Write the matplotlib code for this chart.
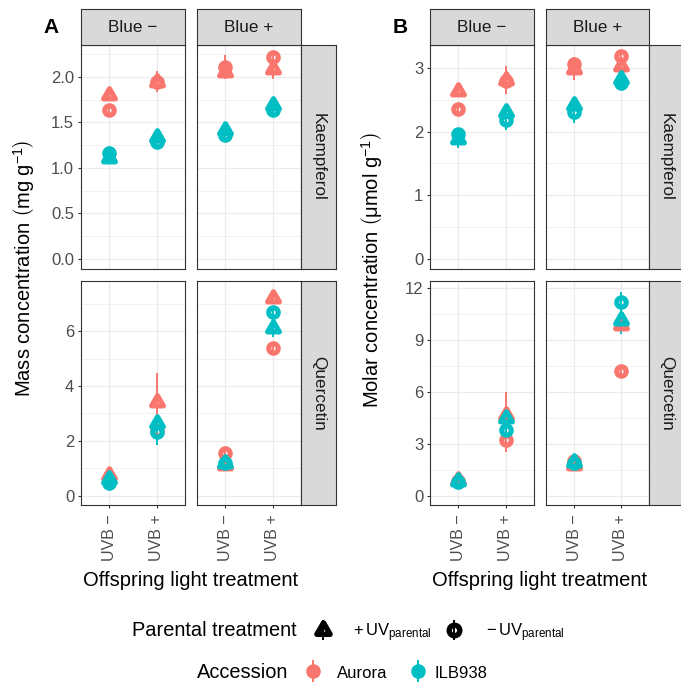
import numpy as np
import matplotlib

matplotlib.use("Agg")
import matplotlib.pyplot as plt
from matplotlib.markers import MarkerStyle
from matplotlib.path import Path

plt.rcParams["font.family"] = ["Liberation Sans", "DejaVu Sans"]
plt.rcParams["mathtext.fontset"] = "custom"
plt.rcParams["mathtext.rm"] = "Liberation Sans"
plt.rcParams["mathtext.it"] = "Liberation Sans:italic"
plt.rcParams["mathtext.bf"] = "Liberation Sans:bold"

# ------------------------------------------------------------------ data
# facet cells, in order: (Blue -, UVB -), (Blue -, UVB +), (Blue +, UVB -), (Blue +, UVB +)
blue_levels = ["Blue \u2212", "Blue +"]
uvb_levels = ["UVB \u2212", "UVB +"]
compounds = ["Kaempferol", "Quercetin"]
accessions = ["Aurora", "ILB938"]
acc_colors = ["#F8766D", "#00BFC4"]

# mass concentration (mg g-1): mean and SE per accession x parental UV
mass_kae_aurora_uv = [1.80, 1.95, 2.06, 2.09]
mass_kae_aurora_uv_se = [0.05, 0.12, 0.06, 0.11]
mass_kae_aurora_nouv = [1.64, 1.94, 2.11, 2.22]
mass_kae_aurora_nouv_se = [0.04, 0.05, 0.13, 0.05]
mass_kae_ilb_uv = [1.11, 1.34, 1.42, 1.69]
mass_kae_ilb_uv_se = [0.04, 0.05, 0.05, 0.05]
mass_kae_ilb_nouv = [1.16, 1.28, 1.36, 1.64]
mass_kae_ilb_nouv_se = [0.04, 0.06, 0.08, 0.04]

mass_que_aurora_uv = [0.76, 3.43, 1.13, 7.20]
mass_que_aurora_uv_se = [0.12, 1.04, 0.10, 0.15]
mass_que_aurora_nouv = [0.60, 2.35, 1.56, 5.39]
mass_que_aurora_nouv_se = [0.10, 0.30, 0.10, 0.12]
mass_que_ilb_uv = [0.62, 2.65, 1.20, 6.10]
mass_que_ilb_uv_se = [0.10, 0.25, 0.10, 0.30]
mass_que_ilb_nouv = [0.47, 2.34, 1.20, 6.70]
mass_que_ilb_nouv_se = [0.10, 0.50, 0.10, 0.15]

# molar concentration (umol g-1)
mol_kae_aurora_uv = [2.63, 2.81, 2.99, 3.03]
mol_kae_aurora_uv_se = [0.06, 0.22, 0.18, 0.08]
mol_kae_aurora_nouv = [2.35, 2.80, 3.06, 3.19]
mol_kae_aurora_nouv_se = [0.05, 0.06, 0.10, 0.08]
mol_kae_ilb_uv = [1.88, 2.31, 2.42, 2.83]
mol_kae_ilb_uv_se = [0.14, 0.08, 0.08, 0.17]
mol_kae_ilb_nouv = [1.97, 2.19, 2.31, 2.76]
mol_kae_ilb_nouv_se = [0.06, 0.16, 0.17, 0.08]

mol_que_aurora_uv = [0.95, 4.68, 1.80, 9.90]
mol_que_aurora_uv_se = [0.25, 1.32, 0.20, 0.25]
mol_que_aurora_nouv = [0.85, 3.23, 2.00, 7.24]
mol_que_aurora_nouv_se = [0.20, 0.70, 0.20, 0.25]
mol_que_ilb_uv = [0.85, 4.50, 1.95, 10.20]
mol_que_ilb_uv_se = [0.20, 0.30, 0.20, 0.85]
mol_que_ilb_nouv = [0.80, 3.80, 1.90, 11.20]
mol_que_ilb_nouv_se = [0.20, 0.40, 0.20, 0.60]

# series order: Aurora +UV, Aurora -UV, ILB938 +UV, ILB938 -UV
mass_series = {
    "Kaempferol": [(mass_kae_aurora_uv, mass_kae_aurora_uv_se),
                   (mass_kae_aurora_nouv, mass_kae_aurora_nouv_se),
                   (mass_kae_ilb_uv, mass_kae_ilb_uv_se),
                   (mass_kae_ilb_nouv, mass_kae_ilb_nouv_se)],
    "Quercetin": [(mass_que_aurora_uv, mass_que_aurora_uv_se),
                  (mass_que_aurora_nouv, mass_que_aurora_nouv_se),
                  (mass_que_ilb_uv, mass_que_ilb_uv_se),
                  (mass_que_ilb_nouv, mass_que_ilb_nouv_se)],
}
mol_series = {
    "Kaempferol": [(mol_kae_aurora_uv, mol_kae_aurora_uv_se),
                   (mol_kae_aurora_nouv, mol_kae_aurora_nouv_se),
                   (mol_kae_ilb_uv, mol_kae_ilb_uv_se),
                   (mol_kae_ilb_nouv, mol_kae_ilb_nouv_se)],
    "Quercetin": [(mol_que_aurora_uv, mol_que_aurora_uv_se),
                  (mol_que_aurora_nouv, mol_que_aurora_nouv_se),
                  (mol_que_ilb_uv, mol_que_ilb_uv_se),
                  (mol_que_ilb_nouv, mol_que_ilb_nouv_se)],
}

# ---------------------------------------------------------------- styling
W, H = 681, 687
BORDER = "#333333"
GRID = "#EBEBEB"
STRIP = "#D9D9D9"
TICKTXT = "#4D4D4D"

TRI = MarkerStyle(Path([(0, 1), (-0.866, -0.5), (0.866, -0.5), (0, 1)],
                       [Path.MOVETO, Path.LINETO, Path.LINETO, Path.CLOSEPOLY]),
                  joinstyle="round")
CIRC = MarkerStyle("o")
series_style = [(0, TRI, 9.8), (0, CIRC, 6.8), (1, TRI, 9.8), (1, CIRC, 6.8)]

fig = plt.figure(figsize=(W / 100, H / 100), dpi=100)


def px_axes(x0, y0, x1, y1, **kw):
    return fig.add_axes([x0 / W, 1 - y1 / H, (x1 - x0) / W, (y1 - y0) / H], **kw)


def strip_axes(x0, y0, x1, y1, label, rotation=0):
    sa = px_axes(x0, y0, x1, y1)
    sa.set_facecolor(STRIP)
    sa.set_xticks([])
    sa.set_yticks([])
    for s in sa.spines.values():
        s.set_color(BORDER)
        s.set_linewidth(0.8)
    sa.text(0.5, 0.5, label, transform=sa.transAxes, ha="center", va="center",
            rotation=rotation, fontsize=12.3, color="#1A1A1A")
    return sa


def tick_text(t, fmt):
    return fmt.format(t)


def draw_panel(cols, rows, right_strip, series, ylims, yticks, yminor, yfmt):
    for r, compound in enumerate(compounds):
        for c in range(2):
            (x0, x1), (y0, y1) = cols[c], rows[r]
            ax = px_axes(x0, y0, x1, y1)
            ax.set_xlim(0.4, 2.6)
            ax.set_ylim(*ylims[r])
            ax.set_xticks([1, 2])
            ax.set_yticks(yticks[r])
            ax.set_yticks(yminor[r], minor=True)
            ax.grid(True, which="major", color=GRID, lw=0.9, zorder=0)
            ax.grid(True, which="minor", axis="y", color=GRID, lw=0.5, zorder=0)
            ax.set_axisbelow(True)
            for s in ax.spines.values():
                s.set_color(BORDER)
                s.set_linewidth(0.8)
                s.set_zorder(5)
            ax.tick_params(which="minor", length=0)
            ax.tick_params(which="major", length=2.4, width=0.8, color=BORDER,
                           labelcolor=TICKTXT, pad=2.5)
            if c == 0:
                ax.set_yticklabels([tick_text(t, yfmt[r]) for t in yticks[r]],
                                   fontsize=12)
            else:
                ax.tick_params(axis="y", left=False, labelleft=False)
            if r == 1:
                ax.set_xticklabels(uvb_levels, rotation=90, fontsize=11.5)
                ax.tick_params(axis="x", pad=4)
            else:
                ax.tick_params(axis="x", bottom=False, labelbottom=False)

            x = np.array([1, 2])
            sl = slice(2 * c, 2 * c + 2)
            # ranges first, then the points on top
            for (mean, se), (acc, _, _) in zip(series[compound], series_style):
                m, e = np.array(mean[sl]), np.array(se[sl])
                ax.vlines(x, m - e, m + e, color=acc_colors[acc], lw=1.4, zorder=2)
            for (mean, se), (acc, mk, ms) in zip(series[compound], series_style):
                ax.plot(x, mean[sl], ls="none", marker=mk, ms=ms, mfc="none",
                        mec=acc_colors[acc], mew=3.7, zorder=3)

            if r == 0:
                strip_axes(x0, 9, x1, y0, blue_levels[c])
            if c == 1:
                strip_axes(right_strip[0], y0, right_strip[1], y1, compound, rotation=-90)


rows = [(45, 269), (281, 505)]
draw_panel([(81, 185), (197, 301)], rows, (301, 336), mass_series,
           ylims=[(-0.112, 2.352), (-0.33, 7.82)],
           yticks=[[0, 0.5, 1.0, 1.5, 2.0], [0, 2, 4, 6]],
           yminor=[[0.25, 0.75, 1.25, 1.75, 2.25], [1, 3, 5, 7]],
           yfmt=["{:.1f}", "{:g}"])
draw_panel([(430, 534), (546, 649)], rows, (649, 684), mol_series,
           ylims=[(-0.157, 3.36), (-0.52, 12.43)],
           yticks=[[0, 1, 2, 3], [0, 3, 6, 9, 12]],
           yminor=[[0.5, 1.5, 2.5], [1.5, 4.5, 7.5, 10.5]],
           yfmt=["{:g}", "{:g}"])

# ------------------------------------------------- titles, labels, legend
ov = fig.add_axes([0, 0, 1, 1], zorder=10)
ov.set_xlim(0, W)
ov.set_ylim(H, 0)
ov.axis("off")
ov.patch.set_alpha(0)

ov.text(51, 27.5, "A", fontsize=15, fontweight="bold", ha="center", va="center")
ov.text(400, 27.5, "B", fontsize=15, fontweight="bold", ha="center", va="center")

ov.text(24, 268, r"Mass concentration $\left(\mathrm{mg\ g^{-1}}\right)$",
        rotation=90, ha="center", va="center", fontsize=14.5)
ov.text(372, 270, r"Molar concentration $\left(\mathrm{\mu mol\ g^{-1}}\right)$",
        rotation=90, ha="center", va="center", fontsize=14.5)
ov.text(190.5, 581, "Offspring light treatment", ha="center", va="center", fontsize=14.5)
ov.text(539.5, 581, "Offspring light treatment", ha="center", va="center", fontsize=14.5)

# parental treatment key
ov.text(131.5, 636.5, "Parental treatment", fontsize=14.4, va="baseline")
for kx, mk, ms, label, tx in [(322.7, TRI, 11, r"$+\,\mathrm{UV}_{\mathrm{parental}}$", 353),
                              (454, CIRC, 7.6, r"$-\,\mathrm{UV}_{\mathrm{parental}}$", 486)]:
    ov.vlines(kx, 620, 640, color="black", lw=1.4)
    ov.plot(kx, 630, marker=mk, ms=ms, mfc="none", mec="black", mew=3.9, ls="none")
    ov.text(tx, 636.5, label, fontsize=12, va="baseline")

# accession key
ov.text(196.5, 678, "Accession", fontsize=14.4, va="baseline")
for kx, col, label, tx in [(313.3, acc_colors[0], accessions[0], 336.5),
                           (418, acc_colors[1], accessions[1], 435)]:
    ov.vlines(kx, 660, 682, color=col, lw=1.4)
    ov.plot(kx, 671, marker="o", ms=10.5, color=col, mew=0, ls="none")
    ov.text(tx, 678, label, fontsize=12, va="baseline")

fig.savefig("out.png", dpi=100)
